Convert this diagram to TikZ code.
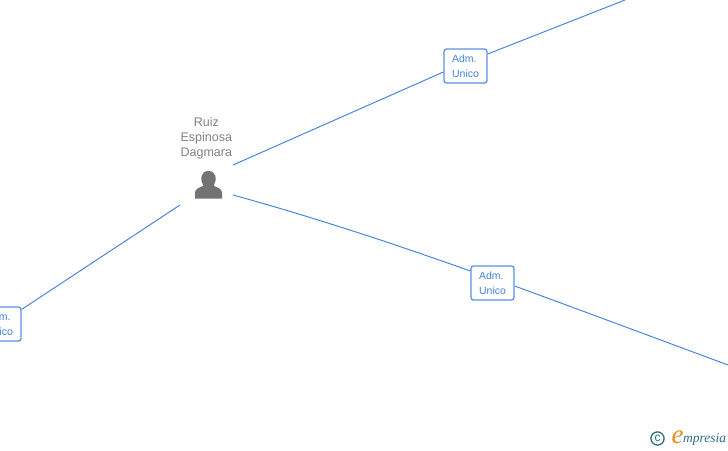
\documentclass[tikz,border=0pt]{standalone}
\usepackage{fontspec}
\setmainfont{Liberation Sans}
\newfontfamily\logofont{Liberation Serif}
\definecolor{linkblue}{HTML}{4382E0}
\definecolor{boxblue}{HTML}{5B93E6}
\definecolor{persongray}{HTML}{737373}
\definecolor{labelgray}{HTML}{828282}
\definecolor{logoteal}{HTML}{2F6F86}
\definecolor{logoorange}{HTML}{F08A1D}
\tikzset{
  link/.style={draw=linkblue,line width=0.95pt},
  rolebox/.style={draw=boxblue,line width=1.3pt,rounded corners=2.5pt,fill=white,
    minimum width=43pt,minimum height=34pt,inner sep=0pt,align=left,
    text=linkblue,font=\fontsize{10.5}{15}\selectfont},
  personlabel/.style={text=labelgray,align=center,inner sep=0pt,
    font=\fontsize{12.5}{15.2}\selectfont}
}
\begin{document}
\begin{tikzpicture}[x=1pt,y=-1pt]
\useasboundingbox (0,0) rectangle (728,450);
\fill[white] (0,0) rectangle (728,450);
\coordinate (pa) at (233,165);
\coordinate (pb) at (233,195);
\coordinate (pc) at (180,205);
\coordinate (ea) at (625,0);
\coordinate (eb) at (728,365);
\node[rolebox] (b1) at (465.5,66) {\raisebox{-1pt}{Adm.}\\\raisebox{-1pt}{Unico}};
\node[rolebox] (b2) at (492.5,283) {\raisebox{-1pt}{Adm.}\\\raisebox{-1pt}{Unico}};
\node[rolebox] (b3) at (-0.5,324) {\raisebox{-1pt}{Adm.}\\\raisebox{-1pt}{Unico}};
\path (b1.west) ++(0,6) coordinate (b1w);
\path (b1.east) ++(0,-12) coordinate (b1e);
\path (b2.west) ++(0,-12) coordinate (b2w);
\path (b2.east) ++(0,3) coordinate (b2e);
\draw[link] (pa) -- (b1w);
\draw[link] (b1e) -- (ea);
\draw[link] (pb) .. controls (320,219) and (400,246) .. (b2w);
\draw[link] (b2e) .. controls (580,310) and (650,336) .. (eb);
\draw[link] (pc) -- (b3);
\node[personlabel] (name) at (206.3,138) {Ruiz\\Espinosa\\Dagmara};
\fill[persongray] (195,198.5) -- (195,193) .. controls (195,188.5) and (199,188) .. (203,186)
  .. controls (203.5,185) and (203.5,184.5) .. (202.5,183.5)
  .. controls (200,180) and (200.5,171) .. (208.5,171)
  .. controls (216.5,171) and (217,180) .. (214.5,183.5)
  .. controls (213.5,184.5) and (213.5,185) .. (214,186)
  .. controls (218,188) and (222,188.5) .. (222,193) -- (222,198.5) -- cycle;
\draw[logoteal,line width=1.3pt] (657.5,438.5) circle (6.6pt);
\node[inner sep=0pt,text=logoteal,font=\fontsize{12}{12}\selectfont] (copy) at (657.5,438) {c};
\node[inner sep=0pt,text=logoorange,font=\logofont\itshape\fontsize{27}{27}\selectfont] (elogo) at (677.5,437) {e};
\node[inner sep=0pt,anchor=base west,text=logoteal,font=\logofont\itshape\fontsize{13.5}{14}\selectfont] (mpresia) at (683,442.5) {mpresia};
\end{tikzpicture}
\end{document}
